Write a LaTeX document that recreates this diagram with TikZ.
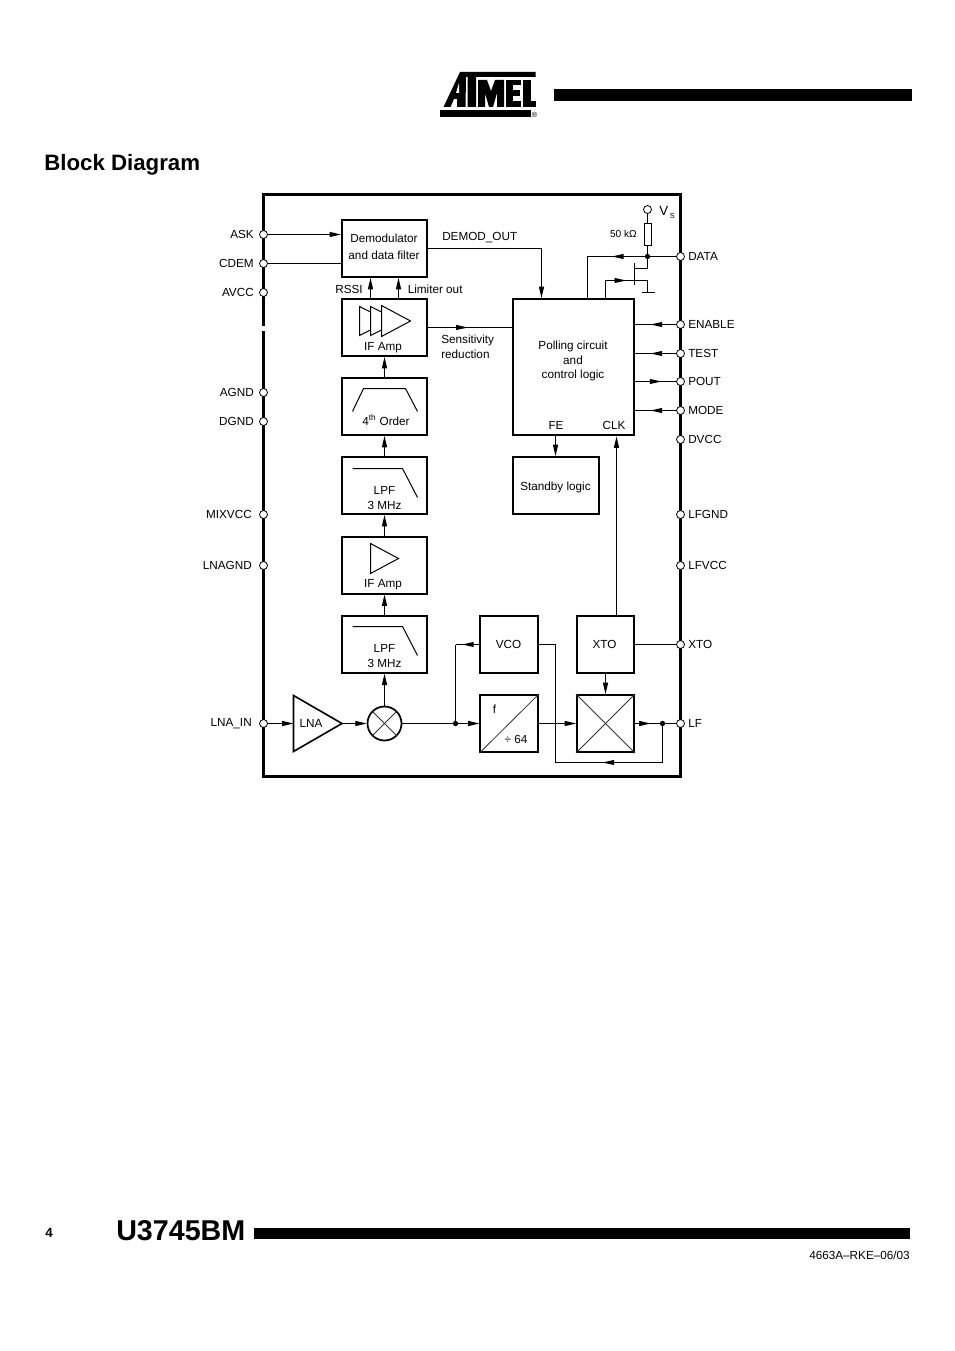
\documentclass[tikz,border=0pt]{standalone}
\usepackage{fontspec}
\setmainfont{Liberation Sans}
\usetikzlibrary{arrows.meta,decorations.markings,calc}
\tikzset{
  x=0.75pt,y=-0.75pt,
  wire/.style={line width=0.75pt,draw=black},
  blk/.style 2 args={draw=black,line width=1.5pt,fill=white,inner sep=0pt,minimum width=#1*0.75pt,minimum height=#2*0.75pt,align=center,font=\lab},
  pinc/.style={circle,draw=black,line width=0.6pt,fill=white,inner sep=0pt,minimum size=6pt},
  jdot/.style={circle,fill=black,inner sep=0pt,minimum size=4pt},
  tiph/.style={-{Triangle[length=8.5pt,width=3.8pt]}},
  midtip/.style={postaction={decorate,decoration={markings,mark=at position #1 with {\fill[black] (0,0) -- (-11.5,2.6) -- (-11.5,-2.6) -- cycle;}}}},
  pl/.style={anchor=east,font=\lab,inner sep=0pt},
  pr/.style={anchor=west,font=\lab,inner sep=0pt},
  txt/.style={font=\lab,inner sep=0pt,align=center},
  txtl/.style={font=\lab,inner sep=0pt,align=left,anchor=west},
  ico/.style={line width=0.75pt,draw=black,line join=miter},
  thinico/.style={line width=0.6pt,draw=black!80},
}
\newcommand{\lab}{\fontsize{8.8}{11}\selectfont}
\newcommand{\labs}{\fontsize{7.6}{9}\selectfont}
\begin{document}
\begin{tikzpicture}
\useasboundingbox (0,0) rectangle (954,1351);
% page furniture
\fill[black] (554,89) rectangle (912,101);
\fill[black] (254,1228) rectangle (910,1239);
\node[anchor=west,inner sep=0pt,font=\fontsize{16.7}{20}\selectfont\bfseries] (title) at (44,165) {Block Diagram};
\node[anchor=west,inner sep=0pt,font=\fontsize{21.5}{25}\selectfont\bfseries] (part) at (116,1231) {U3745BM};
\node[anchor=west,inner sep=0pt,font=\fontsize{10}{12}\selectfont\bfseries] (pageno) at (45,1233) {4};
\node[anchor=east,inner sep=0pt,font=\lab] (docno) at (910,1255) {4663A–RKE–06/03};
% logo
\fill[black] (460,72) -- (535.5,72) -- (535.5,77) -- (476,77) -- (476,107) -- (467.5,107) -- (467.5,77) -- (466,77) -- (465.5,107) -- (457,107) -- (457,99) -- (454,99) -- (450.5,107) -- (443.5,107) -- cycle;
\fill[white] (459,83) -- (459,93) -- (456,93) -- cycle;
\fill[black] (478,80) -- (487,80) -- (491,91) -- (495,80) -- (504,80) -- (504,107) -- (497,107) -- (497,93) -- (493,107) -- (489,107) -- (485,93) -- (485,107) -- (478,107) -- cycle;
\fill[black] (506,80) rectangle (513,107);
\fill[black] (506,80) rectangle (521,85);
\fill[black] (506,90.5) rectangle (520,96);
\fill[black] (506,101.5) rectangle (521,107);
\fill[black] (523,80) rectangle (531,107);
\fill[black] (523,101.5) rectangle (535.5,107);
\fill[black] (440,110) rectangle (530.5,117);
\node[inner sep=0pt,font=\fontsize{5.5}{6}\selectfont] (reg) at (534.5,114.5) {®};
\begin{scope}[xshift=0.375pt,yshift=-0.375pt]
% outer frame
\draw[line width=2.1pt,draw=black] (263.3,194) rectangle (680.2,776.2);
\draw[line width=3pt,draw=white] (263.3,325.5) -- (263.3,330.5);
% blocks
\node[blk={85.5}{57}] (demod) at (384.2,248) {};
\node[blk={85.5}{57}] (ifa) at (384.2,327) {};
\node[blk={85.5}{57}] (bpf) at (384.2,406) {};
\node[blk={85.5}{57}] (lpfa) at (384.2,485) {};
\node[blk={85.5}{57}] (ifb) at (384.2,564.5) {};
\node[blk={85.5}{57}] (lpfb) at (384.2,643.7) {};
\node[blk={121}{136.5}] (poll) at (573,366.7) {};
\node[blk={85.5}{57}] (stby) at (555.3,485) {};
\node[blk={57.5}{57}] (vco) at (508.7,644) {};
\node[blk={57}{57}] (xto) at (605,644) {};
\node[blk={57.5}{57}] (fdiv) at (508.7,723) {};
\node[blk={57}{57}] (pd) at (605,723) {};
\node[draw=black,line width=1.3pt,fill=white,circle,inner sep=0pt,minimum size=25.5pt] (mix) at (384,723) {};
% LNA triangle
\coordinate (lnaw) at (293,723);
\coordinate (lnae) at (341.5,723);
\draw[line width=1.2pt,draw=black,line join=miter] (293,695) -- (lnae) -- (293,751) -- cycle;
% block text
\node[txt,font=\fontsize{8.8}{12.75}\selectfont] (tdemod) at (383.5,246.5) {Demodulator\\and data filter};
\node[txt] (tifa) at (382.5,347.5) {IF Amp};
\node[txt] (tbpf) at (385.5,420) {4\textsuperscript{th} Order};
\node[txt,font=\fontsize{8.8}{11.25}\selectfont] (tlpfa) at (384,498) {LPF\\3 MHz};
\node[txt] (tifb) at (382.5,584.5) {IF Amp};
\node[txt,font=\fontsize{8.8}{11.25}\selectfont] (tlpfb) at (384,656) {LPF\\3 MHz};
\node[txt] (tlna) at (310.5,723) {LNA};
\node[txt] (tpoll) at (572.5,360.5) {Polling circuit\\and\\control logic};
\node[txt] (tfe) at (555.5,425) {FE};
\node[txt] (tclk) at (613.5,425) {CLK};
\node[txt] (tstby) at (555,486.5) {Standby logic};
\node[txt] (tvco) at (508,644) {VCO};
\node[txt] (txto) at (604,644) {XTO};
\node[txt] (tf) at (494,709) {f};
\node[txt] (tdiv) at (515.5,738.5) {÷ 64};
% icons
\draw[ico,fill=white] (359,306) -- (388,320.5) -- (359,335) -- cycle;
\draw[ico,fill=white] (370,306) -- (399,320.5) -- (370,335) -- cycle;
\draw[ico,fill=white] (381,305) -- (410,320.5) -- (381,336) -- cycle;
\draw[ico] (352,411) -- (363,388) -- (405,388) -- (417,411);
\draw[ico] (352,468) -- (402,468) -- (417,497);
\draw[ico] (370,543) -- (398,558) -- (370,573) -- cycle;
\draw[ico] (352,626) -- (402,626) -- (417,655);
\draw[thinico] (fdiv.south west) -- (fdiv.north east);
\draw[thinico] (pd.north west) -- (pd.south east);
\draw[thinico] (pd.south west) -- (pd.north east);
\draw[thinico] (mix.north west) -- (mix.south east);
\draw[thinico] (mix.south west) -- (mix.north east);
% pin labels
\node[pl] (lask) at (253.5,234) {ASK};
\node[pl] (lcdem) at (253.5,263) {CDEM};
\node[pl] (lavcc) at (253.5,292) {AVCC};
\node[pl] (lagnd) at (253.5,392) {AGND};
\node[pl] (ldgnd) at (253.5,421) {DGND};
\node[pl] (lmix) at (251.5,514) {MIXVCC};
\node[pl] (llnag) at (251.5,565) {LNAGND};
\node[pl] (llnai) at (251.5,723) {LNA\_IN};
\node[pr] (ldata) at (687.5,256) {DATA};
\node[pr] (lenab) at (687.5,324) {ENABLE};
\node[pr] (ltest) at (687.5,353) {TEST};
\node[pr] (lpout) at (687.5,381) {POUT};
\node[pr] (lmode) at (687.5,410) {MODE};
\node[pr] (ldvcc) at (687.5,439) {DVCC};
\node[pr] (llfg) at (687.5,514) {LFGND};
\node[pr] (llfv) at (687.5,565) {LFVCC};
\node[pr] (lxto) at (687.5,644) {XTO};
\node[pr] (llf) at (687.5,723) {LF};
% free labels
\node[txtl] (ldemod) at (441.5,237) {DEMOD\_OUT};
\node[pl] (lrssi) at (362.5,289) {RSSI};
\node[txtl] (llim) at (407,289) {Limiter out};
\node[txtl,font=\fontsize{8.8}{11.25}\selectfont] (lsens) at (440.5,346.5) {Sensitivity\\reduction};
\node[anchor=west,inner sep=0pt,font=\fontsize{10}{12}\selectfont] (lvs) at (658.5,210.5) {V};
\node[anchor=west,inner sep=0pt,font=\fontsize{5.5}{7}\selectfont] (lvss) at (669,215) {S};
\node[anchor=east,inner sep=0pt,font=\labs] (lres) at (636.5,233.5) {50 kΩ};
% connectors left
\coordinate (dout) at (541,248);
\draw[wire,tiph] (263,234) -- (demod.west |- 0,234);
\draw[wire] (263,263) -- (demod.west |- 0,263);
\draw[wire,tiph] (demod.east |- dout) -- (dout) -- (dout |- poll.north);
\draw[wire,tiph] (ifa.north -| 370,0) -- (demod.south -| 370,0);
\draw[wire,tiph] (ifa.north -| 398,0) -- (demod.south -| 398,0);
\coordinate (chain) at (384,500);
\draw[wire,tiph] (bpf.north -| chain) -- (ifa.south -| chain);
\draw[wire,tiph] (lpfa.north -| chain) -- (bpf.south -| chain);
\draw[wire,tiph] (ifb.north -| chain) -- (lpfa.south -| chain);
\draw[wire,tiph] (lpfb.north -| chain) -- (ifb.south -| chain);
\draw[wire,tiph] (mix.north) -- (lpfb.south -| chain);
\draw[wire,midtip=0.47] (ifa.east |- 0,327) -- (poll.west |- 0,327);
\draw[wire,tiph] (263,723) -- (lnaw);
\draw[wire,tiph] (lnae) -- (mix.west);
\node[jdot] (j1) at (455,723) {};
\draw[wire,tiph] (mix.east) -- (fdiv.west);
\draw[wire,midtip=0.72] (vco.west) -- (j1 |- vco.west);
\draw[wire] (j1 |- vco.west) -- (j1);
% right part
\node[jdot] (j2) at (662,723) {};
\coordinate (c1) at (555,762);
\coordinate (c2) at (662,762);
\draw[wire,tiph] (fdiv.east) -- (pd.west);
\draw[wire,midtip=0.64] (pd.east) -- (j2);
\draw[wire] (j2) -- (680,723);
\draw[wire] (vco.east) -- (c1 |- vco.east) -- (c1);
\draw[wire,midtip=0.56] (c2) -- (c1);
\draw[wire] (j2) -- (c2);
\draw[wire] (xto.east) -- (680,644);
\draw[wire,tiph] (xto.south) -- (pd.north);
\coordinate (xup) at (616,644);
\draw[wire,tiph] (xto.north -| xup) -- (poll.south -| xup);
\draw[wire,tiph] (poll.south -| 555,0) -- (stby.north -| 555,0);
% pins
\node[pinc] (ask) at (263,234) {};
\node[pinc] (cdem) at (263,263) {};
\node[pinc] (avcc) at (263,292) {};
\node[pinc] (agnd) at (263,392) {};
\node[pinc] (dgnd) at (263,421) {};
\node[pinc] (mixvcc) at (263,514) {};
\node[pinc] (lnagnd) at (263,565) {};
\node[pinc] (lnain) at (263,723) {};
\node[pinc] (data) at (680,256) {};
\node[pinc] (enable) at (680,324) {};
\node[pinc] (test) at (680,353) {};
\node[pinc] (pout) at (680,381) {};
\node[pinc] (mode) at (680,410) {};
\node[pinc] (dvcc) at (680,439) {};
\node[pinc] (lfgnd) at (680,514) {};
\node[pinc] (lfvcc) at (680,565) {};
\node[pinc] (xtop) at (680,644) {};
\node[pinc] (lf) at (680,723) {};
\node[pinc] (vs) at (647,209) {};
\draw[wire,midtip=0.62] (enable) -- (poll.east |- enable);
\draw[wire,midtip=0.62] (test) -- (poll.east |- test);
\draw[wire,midtip=0.64] (poll.east |- pout) -- (pout);
\draw[wire,midtip=0.62] (mode) -- (poll.east |- mode);
% data / FET
\node[jdot] (j3) at (647,256) {};
\node[draw=black,line width=0.9pt,fill=white,inner sep=0pt,minimum width=5.6pt,minimum height=16.5pt] (res) at (647.5,234) {};
\draw[wire] (vs) -- (647,223);
\draw[wire] (647,245) -- (j3);
\draw[wire] (data) -- (j3);
\coordinate (d1) at (587,256);
\draw[wire,midtip=0.57] (j3) -- (d1);
\draw[wire] (d1) -- (poll.north -| d1);
\coordinate (g1) at (605,280);
\coordinate (g2) at (647,280);
\coordinate (g3) at (647,292);
\draw[wire] (poll.north -| g1) -- (g1);
\draw[wire,midtip=0.49] (g1) -- (g2);
\draw[wire] (g2) -- (g3);
\draw[line width=1pt] (641,292) -- (654,292);
\draw[wire] (634,263) -- (634,285);
\draw[wire] (634,268) -- (647,268) -- (j3);
\end{scope}
\end{tikzpicture}
\end{document}
